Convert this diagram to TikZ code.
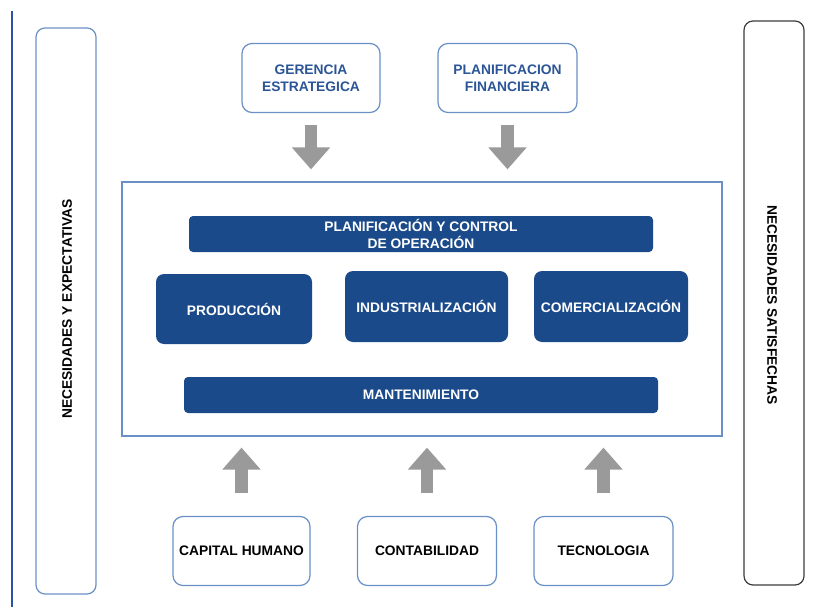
\documentclass[tikz,border=0pt]{standalone}
\usepackage{fontspec}
\setmainfont{Liberation Sans}
\usetikzlibrary{arrows.meta}

\definecolor{darkblue}{HTML}{1B4A8B}
\definecolor{lineblue}{HTML}{6A90C6}
\definecolor{edgeblue}{HTML}{2F50A8}
\definecolor{textblue}{HTML}{2B5597}
\definecolor{arrowgray}{HTML}{9A9A9A}
\definecolor{sidegray}{HTML}{3C3C3C}

\begin{document}
\begin{tikzpicture}[x=1pt, y=-1pt,
  outbox/.style={draw=lineblue, line width=1.2pt, rounded corners=10pt, fill=white,
    inner sep=0pt, align=center, font=\bfseries\fontsize{13.8}{17}\selectfont},
  topbox/.style={outbox, text=textblue},
  blockbox/.style={fill=darkblue, rounded corners=8pt, inner sep=0pt, align=center,
    text=white, font=\bfseries\fontsize{13.8}{16.5}\selectfont},
  barbox/.style={blockbox, rounded corners=4pt},
  sidebox/.style={rounded corners=9pt, line width=1.2pt, inner sep=0pt},
  sidetext/.style={font=\bfseries\fontsize{13.8}{16}\selectfont},
  blockarrow/.style={line width=12.5pt, draw=arrowgray, -{Triangle[width=37pt, length=22pt]}}]

\useasboundingbox (0,0) rectangle (818,607);

\draw[edgeblue, line width=1.2pt] (12,11) -- (12,607);

\node[sidebox, draw=lineblue, minimum width=60pt, minimum height=566pt] (expect) at (66,311) {};
\node[sidetext, rotate=90] (expecttext) at (67,309) {NECESIDADES Y EXPECTATIVAS};
\node[sidebox, draw=sidegray, minimum width=60pt, minimum height=564pt] (satis) at (774,303) {};
\node[sidetext, rotate=-90] (satistext) at (772,305) {NECESIDADES SATISFECHAS};

\node[topbox, minimum width=138pt, minimum height=69pt] (gerencia) at (311,78) {GERENCIA\\ESTRATEGICA};
\node[topbox, minimum width=139pt, minimum height=69pt] (finanzas) at (507.5,78) {PLANIFICACION\\FINANCIERA};

\node[draw=lineblue, line width=1.2pt, minimum width=600pt, minimum height=254pt, inner sep=0pt] (frame) at (422,309) {};

\node[barbox, minimum width=464pt, minimum height=36pt] (control) at (421,234) {PLANIFICACIÓN Y CONTROL\\DE OPERACIÓN};
\node[blockbox, minimum width=156pt, minimum height=70pt] (produccion) at (234,309) {PRODUCCIÓN};
\node[blockbox, minimum width=163pt, minimum height=71pt] (industria) at (426.5,306.5) {INDUSTRIALIZACIÓN};
\node[blockbox, minimum width=154pt, minimum height=71pt] (comercio) at (611,306.5) {COMERCIALIZACIÓN};
\node[barbox, minimum width=474pt, minimum height=36pt] (mantenimiento) at (421,395) {MANTENIMIENTO};

\node[outbox, minimum width=137pt, minimum height=69pt] (capital) at (241.5,551) {CAPITAL HUMANO};
\node[outbox, minimum width=139pt, minimum height=69pt] (contab) at (427,551) {CONTABILIDAD};
\node[outbox, minimum width=139pt, minimum height=69pt] (tecno) at (603.5,551) {TECNOLOGIA};

\draw[blockarrow, shorten <=12pt, shorten >=12pt] (gerencia.south) -- (gerencia.south |- frame.north);
\draw[blockarrow, shorten <=12pt, shorten >=12pt] (finanzas.south) -- (finanzas.south |- frame.north);

\draw[blockarrow, shorten <=23pt, shorten >=11pt] (capital.north) -- (capital.north |- frame.south);
\draw[blockarrow, shorten <=23pt, shorten >=11pt] (contab.north) -- (contab.north |- frame.south);
\draw[blockarrow, shorten <=23pt, shorten >=11pt] (tecno.north) -- (tecno.north |- frame.south);

\end{tikzpicture}
\end{document}
